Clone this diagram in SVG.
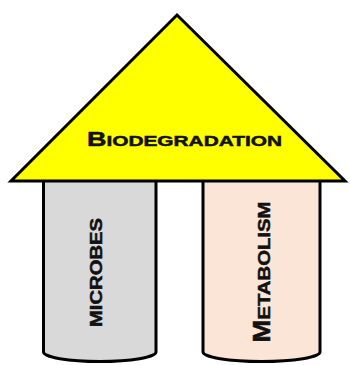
<svg xmlns="http://www.w3.org/2000/svg" width="350" height="365" viewBox="0 0 350 365">
<style>
.sh{stroke:#000;stroke-width:3;stroke-linejoin:miter}
.t{font-family:"Liberation Sans",Arial,sans-serif;font-weight:bold;fill:#111;stroke:#111;stroke-width:0.5}
</style>
<rect width="350" height="365" fill="#fff"/>
<g id="microbes">
<path class="sh" fill="#d9d9d9" d="M43.5,175 V352 A56.25,9.5 0 0 0 156,352 V175"/>
<text class="t" font-size="16.5" text-anchor="middle" textLength="109" lengthAdjust="spacingAndGlyphs" transform="translate(102,272.5) rotate(-90)">MICROBES</text>
</g>
<g id="metabolism">
<path class="sh" fill="#fbe5d6" d="M203,175 V352 A58.5,9.5 0 0 0 320,352 V175"/>
<text class="t" text-anchor="middle" textLength="141" lengthAdjust="spacingAndGlyphs" transform="translate(269.5,272) rotate(-90)"><tspan font-size="23">M</tspan><tspan font-size="17">ETABOLISM</tspan></text>
</g>
<g id="biodegradation">
<polygon class="sh" fill="#ffff00" points="177,15 345,181 11,181"/>
<text class="t" x="184.5" y="146" text-anchor="middle" textLength="195" lengthAdjust="spacingAndGlyphs"><tspan font-size="20">B</tspan><tspan font-size="15.5">IODEGRADATION</tspan></text>
</g>
<g id="connectors"/>
</svg>
